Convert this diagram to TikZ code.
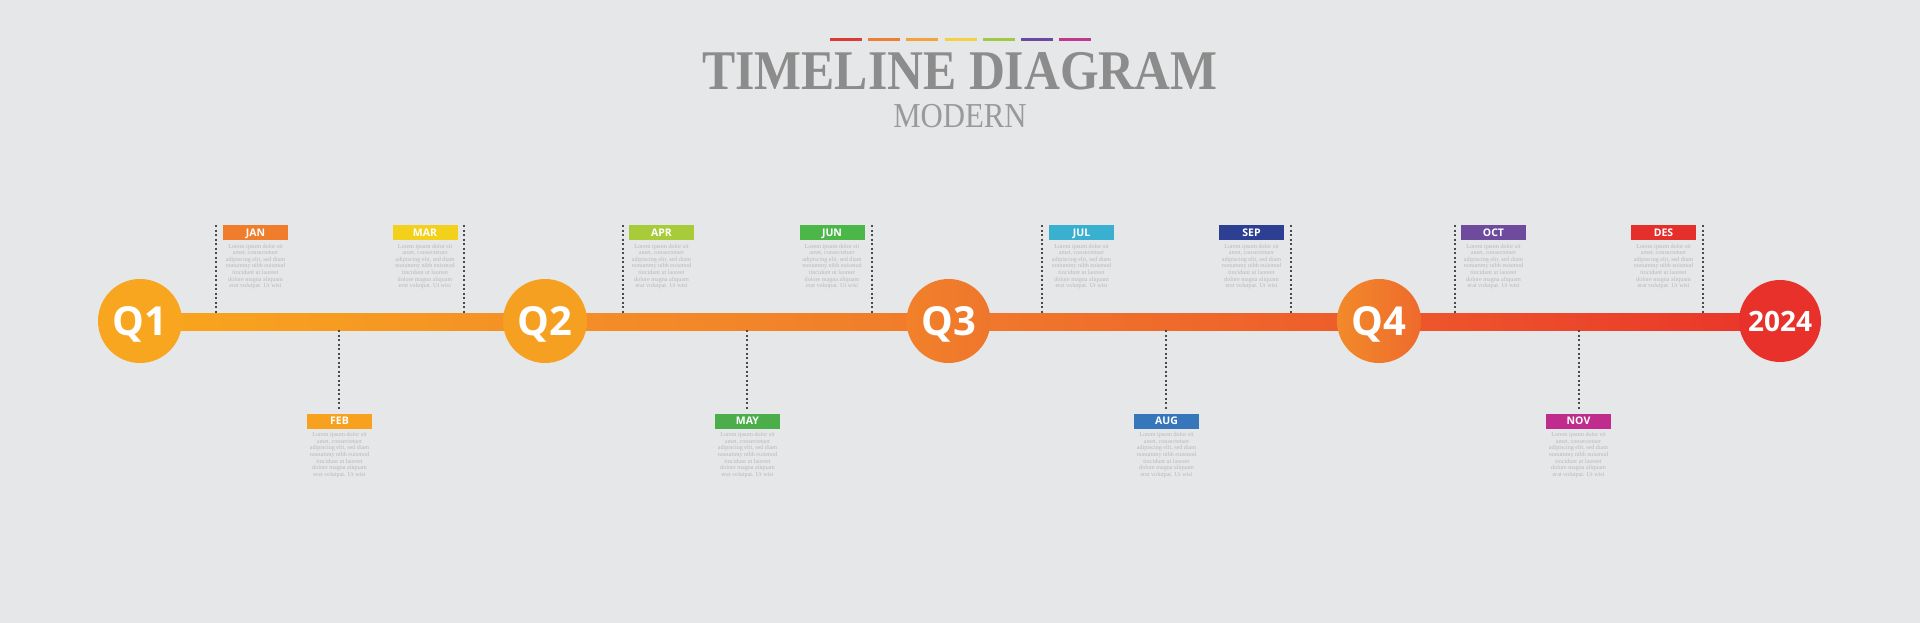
\documentclass[tikz,border=0pt]{standalone}
\usepackage{fontspec}
\setmainfont{Liberation Serif}
\newfontfamily\osans{Open Sans}
\usetikzlibrary{calc}
\definecolor{bgc}{HTML}{E6E7E8}
\definecolor{titlec}{HTML}{8C8C8C}
\definecolor{subc}{HTML}{9A9A9A}
\definecolor{loremc}{HTML}{B8B8B8}
\definecolor{dashc}{HTML}{4A4A4A}
\definecolor{b0}{HTML}{F9A61D}
\definecolor{b1}{HTML}{F48F26}
\definecolor{b2}{HTML}{F07A2B}
\definecolor{b3}{HTML}{EE5B2B}
\definecolor{b4}{HTML}{E9342A}
\definecolor{cq1}{HTML}{F8A520}
\definecolor{cq2}{HTML}{F6A022}
\definecolor{cq3l}{HTML}{F2812A}
\definecolor{cq3r}{HTML}{EE762C}
\definecolor{cq4l}{HTML}{F28A2A}
\definecolor{cq4r}{HTML}{EE6A2C}
\definecolor{cy}{HTML}{E8312B}
\definecolor{cjan}{HTML}{EF7D2C}
\definecolor{cfeb}{HTML}{F7A11F}
\definecolor{cmar}{HTML}{F3D01C}
\definecolor{capr}{HTML}{A8CB3A}
\definecolor{cmay}{HTML}{4BAE4A}
\definecolor{cjun}{HTML}{4CB749}
\definecolor{cjul}{HTML}{3AB0D1}
\definecolor{caug}{HTML}{3676BA}
\definecolor{csep}{HTML}{2C3F92}
\definecolor{coct}{HTML}{6E4B9C}
\definecolor{cnov}{HTML}{BF2C8E}
\definecolor{cdes}{HTML}{E52F2B}
\definecolor{s1}{HTML}{DD3A36}
\definecolor{s2}{HTML}{EE7E33}
\definecolor{s3}{HTML}{F2A33B}
\definecolor{s4}{HTML}{F3D143}
\definecolor{s5}{HTML}{A2C847}
\definecolor{s6}{HTML}{6A4A9E}
\definecolor{s7}{HTML}{C1388F}
\pgfdeclarehorizontalshading{barshade}{100bp}{color(0bp)=(b0); color(25bp)=(b0); color(37.5bp)=(b1); color(50bp)=(b2); color(62.5bp)=(b3); color(75bp)=(b4); color(100bp)=(b4)}
\newcommand{\loremtxt}{Lorem ipsum dolor sit\\amet, consectetuer\\adipiscing elit, sed diam\\nonummy nibh euismod\\tincidunt ut laoreet\\dolore magna aliquam\\erat volutpat. Ut wisi}
\tikzset{
  qnode/.style={circle, minimum size=84pt, inner sep=0pt, text=white,
    font=\osans\bfseries\fontsize{40}{40}\selectfont, text height=28.5pt, text depth=0pt},
  ynode/.style={circle, minimum size=82pt, inner sep=0pt, text=white, fill=cy,
    font=\osans\bfseries\fontsize{28}{28}\selectfont, text height=20pt, text depth=0pt},
  mbox/.style={minimum width=65pt, minimum height=15pt, inner sep=0pt, text=white,
    font=\osans\bfseries\fontsize{10.5}{10.5}\selectfont, text height=7.5pt, text depth=0pt},
  lorem/.style={align=center, inner sep=0pt, text=loremc, anchor=north,
    font=\fontsize{6.1}{6.6}\selectfont},
  dline/.style={draw=dashc, line width=1.2pt, dash pattern=on 2pt off 2.5pt},
  stripe/.style={line width=3pt},
}
\begin{document}
\begin{tikzpicture}[x=1pt,y=-1pt]
\fill[bgc] (0,0) rectangle (1920,623);
% title
\foreach \c [count=\i from 0] in {s1,s2,s3,s4,s5,s6,s7}
  \draw[stripe, draw=\c] (830+38.2*\i,40) -- (862+38.2*\i,40);
\node[anchor=base, inner sep=0pt, text=titlec, font=\bfseries\fontsize{56}{56}\selectfont] (title) at (960,90) {\scalebox{0.888}[1]{TIMELINE DIAGRAM}};
\node[anchor=base, inner sep=0pt, text=subc, font=\fontsize{35}{35}\selectfont] (sub) at (960,128) {\scalebox{0.88}[1]{MODERN}};
% bar
\node[shading=barshade, minimum width=1640pt, minimum height=17pt, inner sep=0pt] (bar) at (960,321.5) {};
% circles
\node[qnode, fill=cq1] (q1) at (140,321) {Q1};
\node[qnode, fill=cq2] (q2) at (545,321) {Q2};
\node[qnode, left color=cq3l, right color=cq3r] (q3) at (948.5,321) {Q3};
\node[qnode, left color=cq4l, right color=cq4r] (q4) at (1379,321) {Q4};
\node[ynode] (y) at (1780,321) {2024};
% top months
\foreach \n/\lab/\c/\cx/\dx in {jan/JAN/cjan/255.5/216, mar/MAR/cmar/425/464, apr/APR/capr/661.5/623, jun/JUN/cjun/832/872, jul/JUL/cjul/1081.5/1042, sep/SEP/csep/1251.5/1291, oct/OCT/coct/1493.5/1455, des/DES/cdes/1663.5/1703}{
  \node[mbox, fill=\c] (\n) at (\cx,232.5) {\lab};
  \node[lorem] (\n t) at ($(\n.south)+(0,3.5)$) {\loremtxt};
  \coordinate (\n a) at (\dx,225);
  \draw[dline] (\n a) -- (\n a |- bar.north);
}
% bottom months
\foreach \n/\lab/\c/\cx/\dx in {feb/FEB/cfeb/339.5/339, may/MAY/cmay/747.5/747, aug/AUG/caug/1166.5/1166, nov/NOV/cnov/1578.5/1579}{
  \node[mbox, fill=\c] (\n) at (\cx,421) {\lab};
  \node[lorem] (\n t) at ($(\n.south)+(0,3.5)$) {\loremtxt};
  \coordinate (\n a) at (\dx,410);
  \draw[dline] (\n a |- bar.south) -- (\n a);
}
\end{tikzpicture}
\end{document}
